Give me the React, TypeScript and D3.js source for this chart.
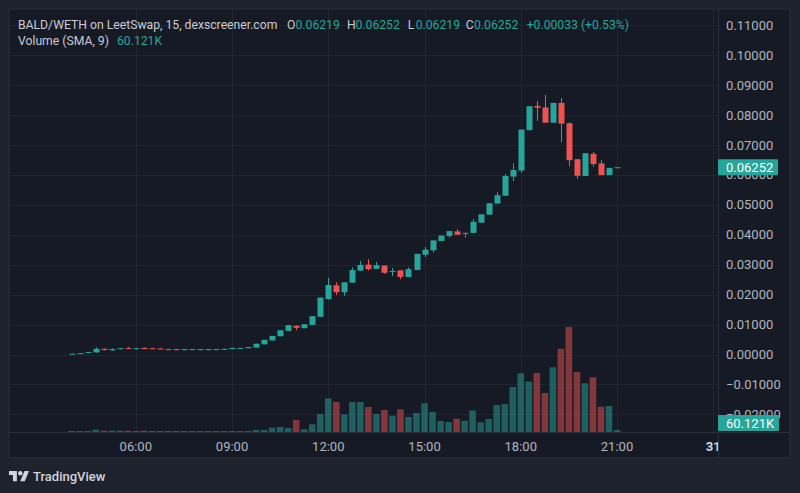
import React from "react";
import * as d3 from "d3";

// ---- data (15-minute candles, 30 Jul 04:00 → 21:00) ----
const startTime = "2023-07-30T04:00:00Z";
const open = [0.00015,0.0003,0.0005,0.0007,0.0019,0.0014,0.0018,0.0022,0.0018,0.0022,0.0021,0.002,0.0018,0.0018,0.0015,0.0016,0.0015,0.0015,0.0016,0.0016,0.0018,0.002,0.0021,0.0023,0.0034,0.0047,0.0061,0.0079,0.0096,0.0088,0.0099,0.0126,0.0185,0.0231,0.0208,0.024,0.028,0.03,0.0286,0.0297,0.0278,0.0281,0.0259,0.0282,0.0333,0.0348,0.0379,0.0396,0.0411,0.0405,0.0406,0.044,0.0467,0.0504,0.053,0.0594,0.0614,0.0749,0.083,0.0825,0.0774,0.084,0.0772,0.0652,0.0596,0.067,0.0638,0.0599,0.06219];
const high = [0.0003,0.0005,0.0009,0.0024,0.002,0.0021,0.0022,0.0025,0.0022,0.0024,0.0022,0.0021,0.0019,0.0019,0.0018,0.0018,0.0018,0.0018,0.0018,0.0019,0.0022,0.0022,0.0025,0.0036,0.0049,0.0062,0.0081,0.0098,0.0098,0.0101,0.0128,0.019,0.0256,0.0241,0.0241,0.0291,0.0312,0.0318,0.0309,0.0297,0.0289,0.0281,0.0291,0.0336,0.0359,0.0381,0.0397,0.0412,0.0419,0.0407,0.0452,0.0468,0.0505,0.0542,0.0603,0.0638,0.0751,0.0829,0.0846,0.0867,0.084,0.0856,0.0775,0.0652,0.0672,0.0676,0.0649,0.0623,0.06252];
const low = [0.0001,0.00025,0.0004,0.0006,0.0013,0.0013,0.0017,0.0019,0.0017,0.0018,0.0018,0.0018,0.0016,0.0014,0.0014,0.0015,0.0014,0.0014,0.0016,0.0016,0.0018,0.002,0.0021,0.0023,0.0034,0.0047,0.0061,0.0079,0.0081,0.0088,0.0099,0.0126,0.0183,0.0199,0.0196,0.024,0.028,0.028,0.0286,0.0269,0.0262,0.0251,0.0259,0.0282,0.0325,0.034,0.0379,0.039,0.04,0.039,0.0406,0.044,0.0467,0.0504,0.053,0.0579,0.0607,0.0749,0.078,0.0774,0.0774,0.0709,0.0629,0.0587,0.0596,0.0627,0.0599,0.0599,0.06219];
const close = [0.00025,0.00045,0.0008,0.0019,0.0015,0.0018,0.0021,0.002,0.0021,0.0018,0.0018,0.0018,0.0016,0.0015,0.0018,0.0018,0.0018,0.0018,0.0018,0.0019,0.0022,0.0022,0.0025,0.0036,0.0049,0.0062,0.0081,0.0098,0.0089,0.0101,0.0128,0.019,0.0232,0.0208,0.0241,0.0282,0.0299,0.0285,0.0298,0.0273,0.0279,0.0259,0.0285,0.0336,0.035,0.0381,0.0397,0.0412,0.04,0.0406,0.0443,0.0468,0.0505,0.0532,0.0596,0.0616,0.0751,0.0829,0.0824,0.0774,0.084,0.0771,0.0649,0.0597,0.0672,0.0636,0.0599,0.0623,0.06252];
// volume in thousands
const volume = [30,30,30,69,39,39,39,39,30,39,30,30,30,30,30,30,30,30,30,30,30,30,30,60,60,129,150,120,360,81,231,540,1011,900,531,900,900,750,540,660,489,681,450,570,861,600,330,300,399,339,651,291,390,810,840,1350,1761,1509,1770,1170,1941,2499,3150,1800,1461,1641,759,780,60.121];

const priceTicks = [0.11,0.1,0.09,0.08,0.07,0.06,0.05,0.04,0.03,0.02,0.01,0,-0.01,-0.02];
const timeTicks = ["2023-07-30T06:00:00Z","2023-07-30T09:00:00Z","2023-07-30T12:00:00Z","2023-07-30T15:00:00Z","2023-07-30T18:00:00Z","2023-07-30T21:00:00Z","2023-07-31T00:00:00Z"];
const timeTickLabels = ["06:00","09:00","12:00","15:00","18:00","21:00","31"];

const titleText = "BALD/WETH on LeetSwap, 15, dexscreener.com";
const ohlcLabels = ["O","H","L","C"];
const ohlcValues = ["0.06219","0.06252","0.06219","0.06252"];
const changeText = "+0.00033 (+0.53%)";
const volumeTitle = "Volume (SMA, 9)";
const volumeValue = "60.121K";
const lastPrice = 0.06252;

// ---- styling ----
const GREEN = "#26a69a";
const RED = "#ef5350";
const VOL_GREEN = "rgba(38,166,154,0.5)";
const VOL_RED = "rgba(239,83,80,0.5)";
const BG = "#161a25";
const OUTER = "#1e222d";
const GRID = "#222531";
const BORDER = "#2a2e39";
const TEXT = "#b2b5be";
const LEGEND = "#c8cbd3";
const FONT = "Roboto, 'Noto Sans', sans-serif";

const W = 800, H = 493;
const paneL = 9, paneT = 9, paneR = 790, paneB = 458;
const axisX = 718, axisY = 432;

export default function App() {
  const t0 = new Date(startTime).getTime();
  const times = open.map((_, i) => new Date(t0 + i * 15 * 60 * 1000));
  const x = d3.scaleUtc()
    .domain([new Date("2023-07-30T06:00:00Z"), new Date("2023-07-30T21:00:00Z")])
    .range([135.8, 617]);
  const y = d3.scaleLinear().domain([-0.02, 0.11]).range([414.4, 25.05]);
  const yv = d3.scaleLinear().domain([0, 3600]).range([axisY, axisY - 120]);
  const fmt = d3.format(".5f");
  const bodyW = 6;
  const volW = 6.6;

  const ohlcX = [287, 347, 407.7, 465.7];
  const ohlcValX = [295.5, 355.5, 415.7, 474];

  return (
    <div style={{ position: "fixed", left: 0, top: 0, width: W, height: H }}>
      <svg width={W} height={H} style={{ display: "block" }} fontFamily={FONT}>
        <rect x={0} y={0} width={W} height={H} fill={OUTER} />
        <rect x={paneL} y={paneT} width={paneR - paneL} height={paneB - paneT} fill={BG} stroke={BORDER} strokeWidth={1} />
        <defs>
          <clipPath id="plot">
            <rect x={paneL} y={paneT} width={axisX - paneL} height={axisY - paneT} />
          </clipPath>
          <clipPath id="taxis">
            <rect x={paneL} y={axisY} width={axisX - paneL} height={paneB - axisY} />
          </clipPath>
        </defs>
        {/* grid */}
        <g clipPath="url(#plot)">
          {priceTicks.map((p, i) => (
            <line key={"h" + i} x1={paneL} x2={axisX} y1={Math.round(y(p)) + 0.5} y2={Math.round(y(p)) + 0.5} stroke={GRID} />
          ))}
          {timeTicks.map((t, i) => (
            <line key={"v" + i} x1={Math.round(x(new Date(t))) + 0.5} x2={Math.round(x(new Date(t))) + 0.5} y1={paneT} y2={axisY} stroke={GRID} />
          ))}
        </g>
        {/* volume */}
        <g clipPath="url(#plot)">
          {volume.map((v, i) => {
            const up = close[i] >= open[i];
            const top = yv(v);
            return (
              <rect key={"vol" + i} x={x(times[i]) - volW / 2} y={top} width={volW} height={Math.max(1, axisY - top)} fill={up ? VOL_GREEN : VOL_RED} />
            );
          })}
        </g>
        {/* candles */}
        <g clipPath="url(#plot)">
          {open.map((o, i) => {
            const c = close[i];
            const up = c >= o;
            const col = up ? GREEN : RED;
            const cx = Math.round(x(times[i])) + 0.5;
            const yTop = y(Math.max(o, c));
            const yBot = y(Math.min(o, c));
            const h = Math.max(1, yBot - yTop);
            return (
              <g key={"c" + i}>
                <line x1={cx} x2={cx} y1={y(high[i])} y2={y(low[i])} stroke={col} strokeWidth={1} />
                <rect x={cx - bodyW / 2} y={yTop} width={bodyW} height={h} fill={col} />
              </g>
            );
          })}
        </g>
        {/* separators */}
        <line x1={axisX + 0.5} x2={axisX + 0.5} y1={paneT} y2={paneB} stroke={BORDER} />
        <line x1={paneL} x2={paneR} y1={axisY + 0.5} y2={axisY + 0.5} stroke={BORDER} />
        {/* price axis labels */}
        {priceTicks.map((p, i) => (
          <text key={"pl" + i} x={726} y={y(p)} dy="0.36em" fontSize={13} fill={TEXT}>{fmt(p)}</text>
        ))}
        {/* last price label */}
        <rect x={axisX} y={y(lastPrice) - 8} width={60} height={16} rx={1} fill={GREEN} />
        <text x={726} y={y(lastPrice)} dy="0.36em" fontSize={13} fill="#ffffff">{fmt(lastPrice)}</text>
        {/* volume label */}
        <rect x={axisX} y={415} width={61} height={16} rx={1} fill={GREEN} />
        <text x={726} y={423} dy="0.36em" fontSize={13} fill="#ffffff">{volumeValue}</text>
        {/* time axis labels */}
        <g clipPath="url(#taxis)">
          {timeTicks.map((t, i) => (
            <text key={"tl" + i} x={x(new Date(t))} y={446} dy="0.36em" textAnchor="middle" fontSize={13}
              fill={i === timeTicks.length - 1 ? "#d1d4dc" : TEXT} fontWeight={i === timeTicks.length - 1 ? 700 : 400}>
              {timeTickLabels[i]}
            </text>
          ))}
        </g>
        {/* legend */}
        <text x={18} y={29.3} fontSize={12.2} fill={LEGEND}>{titleText}</text>
        {ohlcLabels.map((l, i) => (
          <g key={"o" + i}>
            <text x={ohlcX[i]} y={29.3} fontSize={12.2} fill={LEGEND}>{l}</text>
            <text x={ohlcValX[i]} y={29.3} fontSize={12.2} fill={GREEN}>{ohlcValues[i]}</text>
          </g>
        ))}
        <text x={526.7} y={29.3} fontSize={12.2} fill={GREEN}>{changeText}</text>
        <text x={18} y={45} fontSize={12.2} fill={LEGEND}>{volumeTitle}</text>
        <text x={117} y={45} fontSize={12.2} fill={GREEN}>{volumeValue}</text>
        {/* TradingView logo */}
        <g transform={`translate(9, ${471 - 4 * 0.563}) scale(0.563)`} fill="#d1d4dc">
          <path d="M14 22H7V11H0V4h14v18zM28 22h-8l7.5-18h8L28 22z" />
          <circle cx={20} cy={8} r={4} />
        </g>
        <text x={33} y={480.5} fontSize={13} fill="#d1d4dc" fontWeight={500}>TradingView</text>
      </svg>
    </div>
  );
}
